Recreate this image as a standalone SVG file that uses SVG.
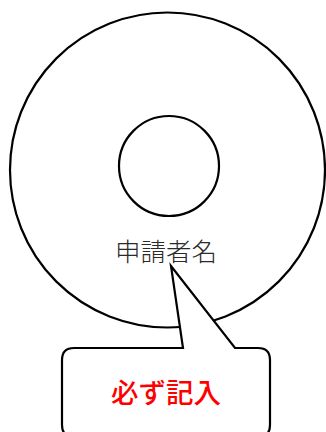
<svg xmlns="http://www.w3.org/2000/svg" width="326" height="432" viewBox="0 0 326 432">
<style>
.ln{fill:#fff;stroke:#000;stroke-width:2.2}
.lbl{font-family:"Noto Sans CJK JP","Noto Sans CJK SC",sans-serif;font-size:25.5px;fill:#2a2a2a;font-weight:300;text-anchor:middle}
.note{font-family:"Noto Sans CJK JP","Noto Sans CJK SC",sans-serif;font-size:27.5px;fill:#f00;font-weight:500;text-anchor:middle}
</style>
<rect width="326" height="432" fill="#fff"/>
<g id="outer">
<circle class="ln" cx="167.5" cy="170" r="157.5"/>
</g>
<g id="inner">
<circle class="ln" cx="169" cy="166" r="50"/>
</g>
<g id="label">
<text class="lbl" x="166" y="261">申請者名</text>
</g>
<g id="callout">
<path class="ln" stroke-linejoin="miter" d="M74,348 H183 L171,266 L235,348 H258 Q270,348 270,360 V425 Q270,437 258,437 H74 Q62,437 62,425 V360 Q62,348 74,348 Z"/>
<text class="note" x="166" y="403">必ず記入</text>
</g>
<g id="connectors"/>
</svg>
